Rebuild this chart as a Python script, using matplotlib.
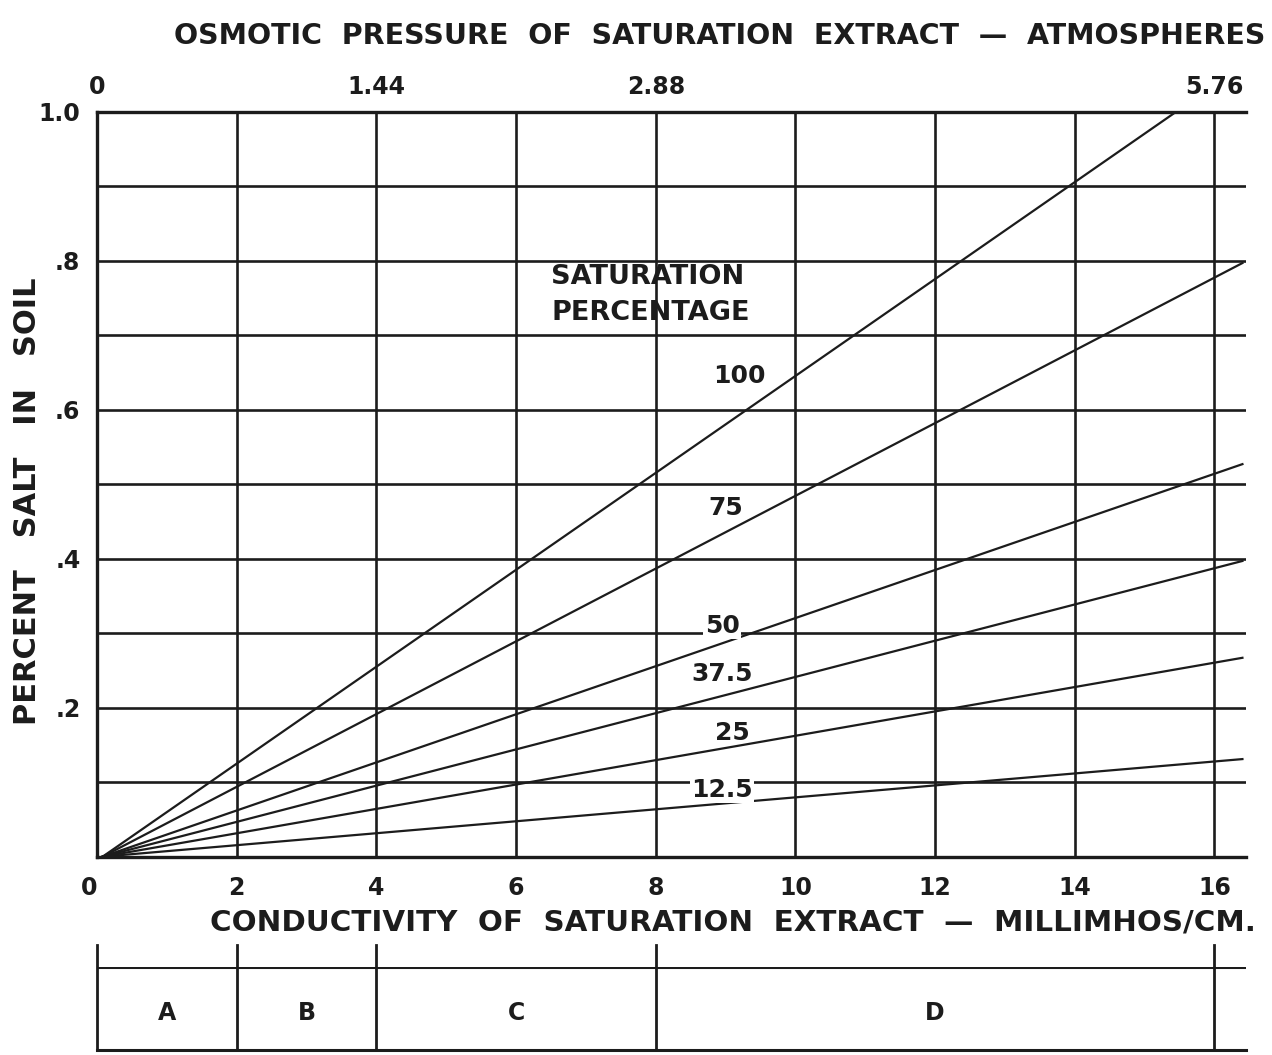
import matplotlib.pyplot as plt

# conductivity axis (millimhos/cm) and osmotic pressure labels on top
ec_ticks = [0, 2, 4, 6, 8, 10, 12, 14, 16]
op_ticks = [0, 4, 8, 16]
op_labels = ["0", "1.44", "2.88", "5.76"]
salt_ticks = [0.2, 0.4, 0.6, 0.8, 1.0]
salt_labels = [".2", ".4", ".6", ".8", "1.0"]

# saturation percentage lines, all start at origin; end point
sat_pct = ["100", "75", "50", "37.5", "25", "12.5"]
end_ec = [15.45, 16.4, 16.4, 16.4, 16.4, 16.4]
end_salt = [1.0, 0.797, 0.527, 0.397, 0.267, 0.131]
label_ec = [9.2, 9.0, 8.95, 8.95, 9.1, 8.95]
label_salt = [0.645, 0.468, 0.31, 0.245, 0.166, 0.09]

# salinity classes below the chart
classes = ["A", "B", "C", "D"]
class_edges = [0, 2, 4, 8, 16]

ink = "#1c1c1c"
XMAX = 16.45
font = {"family": "DejaVu Sans", "weight": "bold", "color": ink}

fig = plt.figure(figsize=(12.72, 10.55), dpi=100)
ax = fig.add_axes([0.0763, 0.188, 0.9032, 0.706])
ax.set_xlim(0, XMAX)
ax.set_ylim(0, 1.0)

# grid
for x in ec_ticks[1:]:
    ax.plot([x, x], [0, 1.0], color=ink, lw=1.9, zorder=1)
for i in range(1, 10):
    ax.plot([0, XMAX], [i / 10, i / 10], color=ink, lw=1.9, zorder=1)

ax.spines["right"].set_visible(False)
for s in ["left", "top", "bottom"]:
    ax.spines[s].set_linewidth(2.4)
    ax.spines[s].set_color(ink)

for x1, y1 in zip(end_ec, end_salt):
    ax.plot([0.08, x1], [0, y1], color=ink, lw=1.6, zorder=2)

for lab, x, y in zip(sat_pct, label_ec, label_salt):
    bg = "white" if lab in ("50", "12.5") else "none"
    ax.text(x, y, lab, ha="center", va="center", fontsize=18, zorder=3,
            bbox=dict(facecolor=bg, edgecolor="none", pad=1), **font)

ax.text(6.5, 0.778, "SATURATION", ha="left", va="center", fontsize=19.5, **font)
ax.text(6.5, 0.730, "PERCENTAGE", ha="left", va="center", fontsize=19.5, **font)

ax.set_xticks(ec_ticks)
ax.set_xticklabels([str(v) for v in ec_ticks])
ax.set_yticks(salt_ticks)
ax.set_yticklabels(salt_labels)
ax.tick_params(length=0, labelsize=17, colors=ink)
ax.tick_params(axis="x", pad=14)
ax.tick_params(axis="y", pad=12)
for lbl in ax.get_xticklabels() + ax.get_yticklabels():
    lbl.set_fontweight("bold")
# the origin "0" sits down and to the left of the corner
ax.get_xticklabels()[0].set_horizontalalignment("right")

top = ax.secondary_xaxis("top")
top.set_xticks(op_ticks)
top.set_xticklabels(op_labels)
top.tick_params(length=0, labelsize=17, colors=ink, pad=9)
for lbl in top.get_xticklabels():
    lbl.set_fontweight("bold")
top.spines["top"].set_visible(False)

fig.text(0.566, 0.966, "OSMOTIC  PRESSURE  OF  SATURATION  EXTRACT  \u2014  ATMOSPHERES",
         ha="center", va="center", fontsize=20.5, **font)
fig.text(0.576, 0.126, "CONDUCTIVITY  OF  SATURATION  EXTRACT  \u2014  MILLIMHOS/CM.",
         ha="center", va="center", fontsize=21.2, **font)
fig.text(0.022, 0.525, "PERCENT   SALT   IN   SOIL", rotation=90,
         ha="center", va="center", fontsize=22, **font)

# class strip
ax2 = fig.add_axes([0.0763, 0.005, 0.9032, 0.078])
ax2.set_xlim(0, XMAX)
ax2.set_ylim(0, 1)
ax2.axis("off")
ax2.plot([0, XMAX], [1, 1], color=ink, lw=2.2)
ax2.plot([0, XMAX], [0, 0], color=ink, lw=2.2, clip_on=False)
for x in class_edges:
    ax2.plot([x, x], [0, 1.27], color=ink, lw=2.0, clip_on=False)
for name, a, b in zip(classes, class_edges[:-1], class_edges[1:]):
    ax2.text((a + b) / 2, 0.45, name, ha="center", va="center", fontsize=17, **font)

fig.savefig("out.png", dpi=100, facecolor="white")
